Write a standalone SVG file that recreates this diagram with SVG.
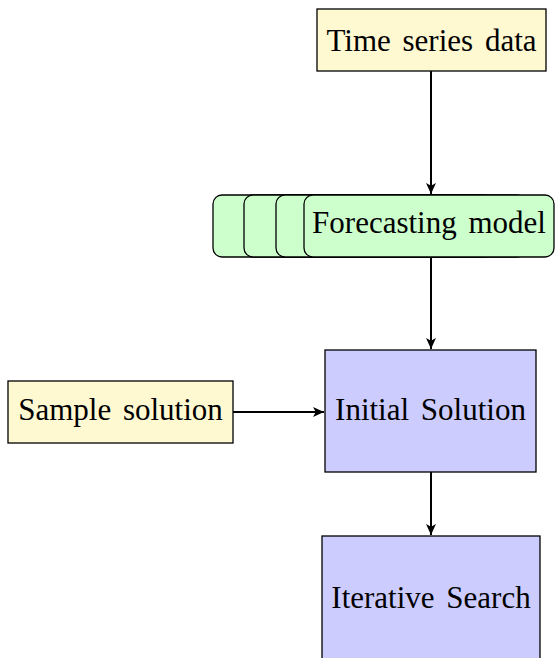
<svg xmlns="http://www.w3.org/2000/svg" width="555" height="658" viewBox="0 0 555 658">
<style>
.box{stroke:#000;stroke-width:1.3}
.y{fill:#FFF9D2}
.g{fill:#CCFFCC}
.b{fill:#CCCCFF}
text{font-family:"Liberation Serif","Times New Roman",serif;font-size:31px;fill:#000;text-anchor:middle;word-spacing:4px}
.c{stroke:#000;stroke-width:2;fill:none;marker-end:url(#ah)}
</style>
<defs>
<marker id="ah" viewBox="0 0 10 10" refX="10" refY="5" markerWidth="11" markerHeight="11" markerUnits="userSpaceOnUse" orient="auto">
<path d="M0,0.5 L10,5 L0,9.5 L2.5,5 Z" fill="#000"/>
</marker>
</defs>
<g id="connectors">
<line class="c" x1="431" y1="71" x2="431" y2="194"/>
<line class="c" x1="431" y1="257" x2="431" y2="349"/>
<line class="c" x1="233" y1="412" x2="324" y2="412"/>
<line class="c" x1="431" y1="472" x2="431" y2="535"/>
</g>
<g id="time-series">
<rect class="box y" x="317" y="9" width="229" height="62"/>
<text x="431.5" y="51">Time series data</text>
</g>
<g id="forecasting">
<rect class="box g" x="213" y="195" width="250" height="62" rx="9"/>
<rect class="box g" x="244" y="195" width="250" height="62" rx="9"/>
<rect class="box g" x="276" y="195" width="250" height="62" rx="9"/>
<rect class="box g" x="304" y="195" width="250" height="62" rx="9"/>
<text x="429" y="233">Forecasting model</text>
</g>
<g id="sample">
<rect class="box y" x="8" y="381" width="225" height="62"/>
<text x="120.5" y="420">Sample solution</text>
</g>
<g id="initial">
<rect class="box b" x="325" y="350" width="211" height="122"/>
<text x="430.5" y="420">Initial Solution</text>
</g>
<g id="iterative">
<rect class="box b" x="322" y="536" width="218" height="140"/>
<text x="431" y="608">Iterative Search</text>
</g>
</svg>
